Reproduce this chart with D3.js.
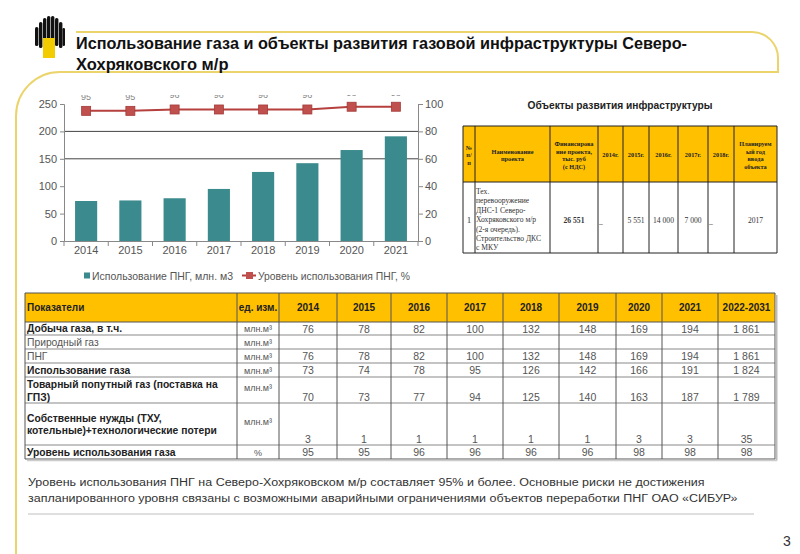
<!DOCTYPE html>
<html><head><meta charset="utf-8">
<script src="https://cdn.jsdelivr.net/npm/d3@7"></script>
<style>body{margin:0;background:#fff}svg{display:block;font-family:"Liberation Sans",Arial,sans-serif}</style>
</head><body><svg id="c" width="800" height="554"></svg>
<script>
// ---------- data ----------
const years = ["2014","2015","2016","2017","2018","2019","2020","2021"];
const pngUse = [73,74,78,95,126,142,166,191];
const utilLevel = [95,95,96,96,96,96,98,98];
const leftTicks = [0,50,100,150,200,250];
const rightTicks = [0,20,40,60,80,100];
const gridValues = [150,200];
const seriesNames = ["Использование ПНГ, млн. м3","Уровень использования ПНГ, %"];

const titleLines = ["Использование газа и объекты развития газовой инфраструктуры Северо-","Хохряковского м/р"];
const noteLines = ["Уровень использования ПНГ на Северо-Хохряковском м/р составляет 95% и более. Основные риски не достижения",
  "запланированного уровня связаны с возможными аварийными ограничениями объектов переработки ПНГ ОАО «СИБУР»"];

const tableHeader = ["Показатели","ед. изм.","2014","2015","2016","2017","2018","2019","2020","2021","2022-2031"];
const rowLabels = [["Добыча газа, в т.ч."],["Природный газ"],["ПНГ"],["Использование газа"],
  ["Товарный попутный газ (поставка на","ГПЗ)"],["Собственные нужды (ТХУ,","котельные)+технологические потери"],["Уровень использования газа"]];
const rowBold = [true,false,false,true,true,true,true];
const rowUnits = ["млн.м³","млн.м³","млн.м³","млн.м³","млн.м³","млн.м³","%"];
const rowProduction = ["76","78","82","100","132","148","169","194","1 861"];
const rowNatural = ["","","","","","","","",""];
const rowPng = ["76","78","82","100","132","148","169","194","1 861"];
const rowUsage = ["73","74","78","95","126","142","166","191","1 824"];
const rowCommercial = ["70","73","77","94","125","140","163","187","1 789"];
const rowOwnNeeds = ["3","1","1","1","1","1","3","3","35"];
const rowLevel = ["95","95","96","96","96","96","98","98","98"];
const tableRows = [rowProduction,rowNatural,rowPng,rowUsage,rowCommercial,rowOwnNeeds,rowLevel];

const projTitle = "Объекты развития инфраструктуры";
const projHeader = [["№","п/","п"],["Наименование","проекта"],["Финансирова","ние проекта,","тыс. руб","(с НДС)"],["2014г."],["2015г."],["2016г."],["2017г."],["2018г."],["Планируем","ый год","ввода","объекта"]];
const projName = ["Тех.","перевооружение","ДНС-1 Северо-","Хохряковского м/р","(2-я очередь).","Строительство ДКС","с МКУ"];
const projRow = ["1","","26 551","_","5 551","14 000","7 000","_","2017"];

// ---------- drawing ----------
const svg = d3.select("#c");

// decorative frame
svg.append("path").attr("d","M76,32 H752 A26,26 0 0 1 778,58 V72 H60 A44,44 0 0 0 16,116 V554")
  .attr("fill","none").attr("stroke","#ecd46c").attr("stroke-width",2);

// logo
const logo = svg.append("g");
const barsL = [[35,27,38],[39,22,40],[43,18,38],[47,16,37],[51,16,37],[55,18,38],[59,22,40]];
barsL.forEach(b=>logo.append("rect").attr("x",b[0]).attr("y",b[1]).attr("width",3.4).attr("height",b[2]-b[1]+8).attr("rx",1.6).attr("fill","#111"));
logo.append("rect").attr("x",62.5).attr("y",28).attr("width",2.5).attr("height",18).attr("rx",1.2).attr("fill","#111");
logo.append("rect").attr("x",43).attr("y",38).attr("width",12).attr("height",20).attr("fill","#f3cc00");

// title
titleLines.forEach((t,i)=>{
  const tx = svg.append("text").attr("x",76).attr("y",49+i*21).attr("font-size",16.5).attr("font-weight","bold").attr("fill","#111").text(t);
  if(i===0) tx.attr("textLength",611).attr("lengthAdjust","spacingAndGlyphs");
});

// ---------- combo chart ----------
const x = d3.scaleBand().domain(years).range([64,418]).paddingInner(0.5).paddingOuter(0.25);
const yL = d3.scaleLinear().domain([0,250]).range([241,104]);
const yR = d3.scaleLinear().domain([0,100]).range([241,104]);
const chart = svg.append("g");

chart.selectAll(".grid").data(gridValues).join("line")
  .attr("x1",64).attr("x2",418).attr("y1",d=>yL(d)).attr("y2",d=>yL(d))
  .attr("stroke","#444").attr("stroke-width",1);

chart.selectAll(".bar").data(years).join("rect")
  .attr("x",d=>x(d)).attr("width",x.bandwidth())
  .attr("y",(d,i)=>yL(pngUse[i])).attr("height",(d,i)=>yL(0)-yL(pngUse[i]))
  .attr("fill","#3b8a8d");

const axL = chart.append("g").attr("transform","translate(64,0)")
  .call(d3.axisLeft(yL).tickValues(leftTicks).tickSize(4).tickPadding(3));
const axR = chart.append("g").attr("transform","translate(418,0)")
  .call(d3.axisRight(yR).tickValues(rightTicks).tickSize(5).tickPadding(2));
const axB = chart.append("g").attr("transform","translate(0,241)")
  .call(d3.axisBottom(x).tickSize(0).tickPadding(5));
[axL,axR,axB].forEach(a=>{
  a.selectAll("path,line").attr("stroke","#888");
  a.selectAll("text").attr("fill","#555").attr("font-size",11).attr("font-family","Liberation Sans, Arial, sans-serif");
});
const step = x.step();
const bounds = years.map(d=>x(d)-(step-x.bandwidth())/2).concat([418]);
chart.selectAll(".xt").data(bounds).join("line")
  .attr("x1",d=>d).attr("x2",d=>d).attr("y1",241).attr("y2",246).attr("stroke","#888");

// line series
const cx = d=>x(d)+x.bandwidth()/2;
chart.append("path").datum(years)
  .attr("d",d3.line().x(cx).y((d,i)=>yR(utilLevel[i])))
  .attr("fill","none").attr("stroke","#b5403d").attr("stroke-width",2);
chart.selectAll(".mk").data(years).join("rect")
  .attr("x",d=>cx(d)-4.5).attr("y",(d,i)=>yR(utilLevel[i])-4.5).attr("width",9).attr("height",9)
  .attr("fill","#c0504d").attr("stroke","#a33a37").attr("stroke-width",0.8);

// clipped data labels
svg.append("clipPath").attr("id","lblclip").append("rect").attr("x",60).attr("y",95).attr("width",370).attr("height",8);
chart.append("g").attr("clip-path","url(#lblclip)").selectAll("text").data(years).join("text")
  .attr("x",cx).attr("y",(d,i)=>yR(utilLevel[i])-11).attr("text-anchor","middle")
  .attr("font-size",9).attr("fill","#888").text((d,i)=>utilLevel[i]);

// legend
const lg = svg.append("g").attr("font-size",11).attr("fill","#555");
lg.append("rect").attr("x",84).attr("y",272.5).attr("width",6).attr("height",6).attr("fill","#3b8a8d");
lg.append("text").attr("x",92).attr("y",280).attr("textLength",141).attr("lengthAdjust","spacingAndGlyphs").text(seriesNames[0]);
lg.append("line").attr("x1",242).attr("x2",256).attr("y1",275.5).attr("y2",275.5).attr("stroke","#b5403d").attr("stroke-width",2);
lg.append("rect").attr("x",246).attr("y",272).attr("width",7).attr("height",7).attr("fill","#c0504d");
lg.append("text").attr("x",258).attr("y",280).attr("textLength",152).attr("lengthAdjust","spacingAndGlyphs").text(seriesNames[1]);

// ---------- project table (right) ----------
svg.append("text").attr("x",620).attr("y",109).attr("text-anchor","middle").attr("font-size",10.5).attr("font-weight","bold")
  .attr("fill","#222").attr("textLength",185).attr("lengthAdjust","spacingAndGlyphs").text(projTitle);
const pc = [463,475,550,598,623,649,678,708,734,777];
const pr = [126,182,253];
const pt = svg.append("g").attr("font-family","Liberation Serif, Times New Roman, serif");
pt.append("rect").attr("x",pc[0]).attr("y",pr[0]).attr("width",pc[9]-pc[0]).attr("height",pr[1]-pr[0]).attr("fill","#ffc000");
projHeader.forEach((lines,i)=>{
  const mx=(pc[i]+pc[i+1])/2, n=lines.length, y0=155-(n-1)*7.6/2;
  lines.forEach((l,j)=>pt.append("text").attr("x",mx).attr("y",y0+j*7.6+2.3).attr("text-anchor","middle")
    .attr("font-size",6.3).attr("font-weight","bold").attr("fill","#222").text(l));
});
projName.forEach((l,j)=>pt.append("text").attr("x",476).attr("y",194+j*9.4).attr("font-size",7.6).attr("fill","#333").text(l));
projRow.forEach((v,i)=>{
  if(!v) return;
  const dash = v==="_";
  pt.append("text").attr("x",dash?pc[i]+1:(pc[i]+pc[i+1])/2).attr("y",dash?224:223)
    .attr("text-anchor",dash?"start":"middle").attr("font-size",i===0?9:7.6)
    .attr("font-weight",i===2?"bold":"normal").attr("fill","#333").text(v);
});
pc.forEach(c=>pt.append("line").attr("x1",c).attr("x2",c).attr("y1",pr[0]).attr("y2",pr[2]).attr("stroke","#222").attr("stroke-width",1));
pr.forEach(r=>pt.append("line").attr("x1",pc[0]).attr("x2",pc[9]).attr("y1",r).attr("y2",r).attr("stroke","#222").attr("stroke-width",1));

// ---------- main table ----------
const tc = [25,237,279,337,391,447,503,559,616,662,718,775];
const tr = [293,322,335,349,363,377,403,445,459];
const mt = svg.append("g");
mt.append("rect").attr("x",tc[0]).attr("y",tr[0]).attr("width",tc[11]-tc[0]).attr("height",tr[1]-tr[0]).attr("fill","#ffc000");
tableHeader.forEach((h,i)=>{
  mt.append("text").attr("x",i===0?27:(tc[i]+tc[i+1])/2).attr("y",311).attr("text-anchor",i===0?"start":"middle")
    .attr("font-size",10).attr("font-weight","bold").attr("fill","#222").text(h);
});
rowLabels.forEach((lines,r)=>{
  const top=tr[r+1], bot=tr[r+2], tall = bot-top>20;
  const ys = lines.length===1 ? [ (top+bot)/2+3.8 ] : (bot-top>30 ? [421.5,434] : [388,401]);
  lines.forEach((l,j)=>mt.append("text").attr("x",27).attr("y",ys[j]).attr("font-size",10.3)
    .attr("font-weight",rowBold[r]?"bold":"normal").attr("fill",rowBold[r]?"#222":"#555").text(l));
  mt.append("text").attr("x",(tc[1]+tc[2])/2).attr("y",(top+bot)/2+(tall?1:3.5)).attr("text-anchor","middle")
    .attr("font-size",9).attr("fill","#555").text(rowUnits[r]);
  tableRows[r].forEach((v,c)=>{
    mt.append("text").attr("x",(tc[c+2]+tc[c+3])/2).attr("y",tall?bot-2.5:(top+bot)/2+4).attr("text-anchor","middle")
      .attr("font-size",10.5).attr("fill","#555").text(v);
  });
});
tr.forEach((r,i)=>mt.append("line").attr("x1",tc[0]).attr("x2",tc[11]).attr("y1",r).attr("y2",r)
  .attr("stroke",i<=1||i===tr.length-1?"#555":"#8a8a8a").attr("stroke-width",1.2));
tc.forEach(c=>mt.append("line").attr("x1",c).attr("x2",c).attr("y1",tr[0]).attr("y2",tr[tr.length-1]).attr("stroke","#555").attr("stroke-width",1));
mt.append("line").attr("x1",776.5).attr("x2",776.5).attr("y1",tr[0]+2).attr("y2",tr[tr.length-1]+1.5).attr("stroke","#bbb").attr("stroke-width",2);
mt.append("line").attr("x1",tc[0]+2).attr("x2",777).attr("y1",460.5).attr("y2",460.5).attr("stroke","#ccc").attr("stroke-width",1.5);

// ---------- note (both lines share one horizontal scale) ----------
const noteG = svg.append("g");
const noteTexts = noteLines.map((t,i)=>noteG.append("text").attr("x",0).attr("y",486+i*16).attr("font-size",11.5).attr("fill","#333").text(t));
const w2 = noteTexts[1].node().getComputedTextLength();
const sx = (738-28)/w2;
noteG.attr("transform",`translate(28,0) scale(${sx},1)`);
svg.append("line").attr("x1",28).attr("x2",754).attr("y1",514).attr("y2",514).attr("stroke","#d4d4d4").attr("stroke-width",1.5);
svg.append("text").attr("x",783).attr("y",546).attr("font-size",14).attr("fill","#333").text("3");
</script></body></html>
